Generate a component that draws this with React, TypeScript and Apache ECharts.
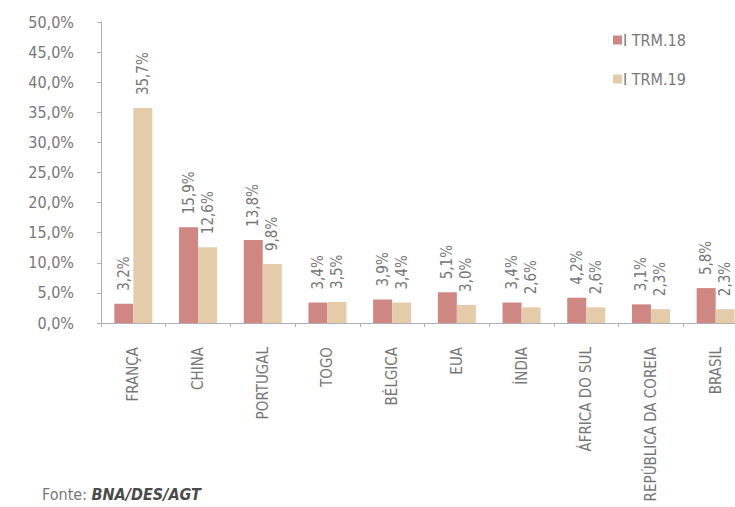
import React, { useEffect, useRef } from "react";
import * as echarts from "echarts";

const categories = ["FRANÇA", "CHINA", "PORTUGAL", "TOGO", "BÉLGICA", "EUA", "ÍNDIA", "ÁFRICA DO SUL", "REPÚBLICA DA COREIA", "BRASIL"];
const trm18 = [3.2, 15.9, 13.8, 3.4, 3.9, 5.1, 3.4, 4.2, 3.1, 5.8];
const trm19 = [35.7, 12.6, 9.8, 3.5, 3.4, 3.0, 2.6, 2.6, 2.3, 2.3];
const seriesNames = ["I TRM.18", "I TRM.19"];

const FONT = "'DejaVu Sans Condensed', 'Liberation Sans Narrow', sans-serif";
const GRAY = "#777777";
const fmt = (v: number) => v.toFixed(1).replace(".", ",") + "%";

export default function App() {
  const ref = useRef<HTMLDivElement>(null);
  useEffect(() => {
    if (!ref.current) return;
    const chart = echarts.init(ref.current, null, { renderer: "svg" });
    const label = {
      show: true,
      position: "top",
      rotate: 90,
      align: "left",
      verticalAlign: "middle",
      distance: 13,
      color: GRAY,
      fontFamily: FONT,
      fontSize: 15,
      formatter: (p: any) => fmt(p.value),
    };
    chart.setOption({
      animation: false,
      textStyle: { fontFamily: FONT },
      grid: { left: 101, top: 22, bottom: 184, right: 12, containLabel: false, outerBoundsMode: "none" },
      legend: {
        orient: "vertical",
        left: 613,
        top: 32,
        padding: 0,
        itemWidth: 9,
        itemHeight: 9,
        itemGap: 23,
        icon: "rect",
        textStyle: { color: GRAY, fontFamily: FONT, fontSize: 16, lineHeight: 16, padding: [0, 0, 0, -4] },
        data: seriesNames,
      },
      xAxis: {
        type: "category",
        data: categories,
        axisLine: { lineStyle: { color: "#b0b0b0" } },
        axisTick: { show: true, length: 4, lineStyle: { color: "#b0b0b0" } },
        axisLabel: {
          rotate: 90,
          margin: 24,
          interval: 0,
          color: GRAY,
          fontFamily: FONT,
          fontSize: 15,
        },
      },
      yAxis: {
        type: "value",
        min: 0,
        max: 50,
        interval: 5,
        splitLine: { show: false },
        axisLine: { show: true, lineStyle: { color: "#b0b0b0" } },
        axisTick: { show: true, length: 4, lineStyle: { color: "#b0b0b0" } },
        axisLabel: {
          margin: 27,
          color: GRAY,
          fontFamily: FONT,
          fontSize: 16,
          formatter: (v: number) => fmt(v),
        },
      },
      series: [
        {
          name: seriesNames[0],
          type: "bar",
          data: trm18,
          barWidth: 19,
          barGap: "0%",
          itemStyle: { color: "#cf8783" },
          label,
        },
        {
          name: seriesNames[1],
          type: "bar",
          data: trm19,
          barWidth: 19,
          barGap: "0%",
          itemStyle: { color: "#e4ccab" },
          label,
        },
      ],
      graphic: [
        {
          type: "text",
          left: 42,
          top: 486,
          style: {
            rich: {
              a: { fontFamily: FONT, fontSize: 16, fill: GRAY },
              b: { fontFamily: FONT, fontSize: 16, fill: "#4a4a4a", fontWeight: "bold", fontStyle: "italic" },
            },
            text: "{a|Fonte: }{b|BNA/DES/AGT}",
          },
        },
      ],
    });
    return () => chart.dispose();
  }, []);
  return (
    <div style={{ position: "fixed", left: 0, top: 0, width: 735, height: 507, overflow: "hidden", background: "#fff" }}>
      <div ref={ref} style={{ width: 760, height: 507 }} />
    </div>
  );
}
